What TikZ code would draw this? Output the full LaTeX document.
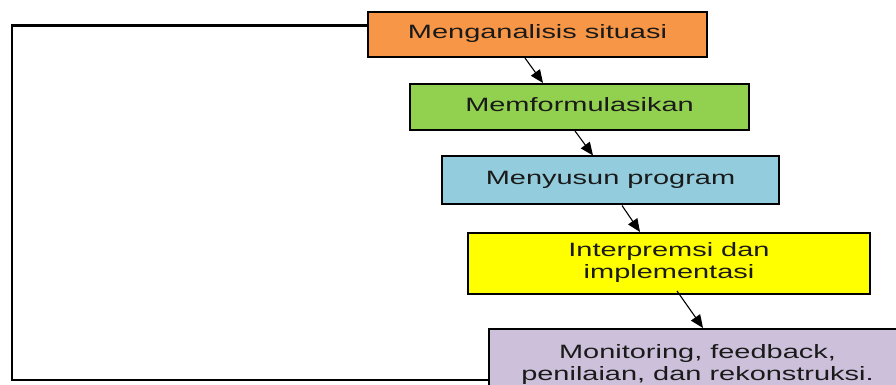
\documentclass[tikz,border=0pt]{standalone}
\usepackage{graphicx}
\usepackage{fontspec}
\setmainfont{Liberation Sans}
\usepackage{tikz}
\usetikzlibrary{arrows.meta}

\definecolor{oranye}{HTML}{F79646}
\definecolor{hijau}{HTML}{92D050}
\definecolor{biru}{HTML}{93CDDD}
\definecolor{kuning}{HTML}{FFFF00}
\definecolor{ungu}{HTML}{CCC0DA}

\newcommand{\melebar}[1]{\scalebox{1.5}[1]{\begin{tabular}{@{}c@{}}#1\end{tabular}}}

\begin{document}
\begin{tikzpicture}[x=1pt, y=1pt,
		langkah/.style={draw=black, line width=2pt, inner sep=0pt,
			font=\fontsize{19.3}{22}\selectfont\color[HTML]{1A1A1A}},
		panah/.style={line width=1.1pt, -{Triangle[length=13pt, width=11pt]}},
		balik/.style={line width=2.4pt}]
		\clip (0,0) rectangle (896,385);
		
		% draw boxes
		\node[langkah, fill=oranye, minimum width=339pt, minimum height=45pt] (situasi) at (537.5,350.5) {\melebar{Menganalisis situasi}};
		\node[langkah, fill=hijau, minimum width=339pt, minimum height=46pt] (formulasi) at (579.5,278) {\melebar{Memformulasikan}};
		\node[langkah, fill=biru, minimum width=337pt, minimum height=48pt] (program) at (610.5,204.5) {\melebar{Menyusun program}};
		\node[langkah, fill=kuning, minimum width=402pt, minimum height=61pt] (implementasi) at (669,121.5) {\melebar{Interpremsi dan\\implementasi}};
		\node[langkah, fill=ungu, minimum width=417pt, minimum height=72pt] (monitoring) at (697.5,20) {\melebar{Monitoring, feedback,\\penilaian, dan rekonstruksi.}};
		
		% draw arrows
		\draw[panah] ([xshift=-12.5pt]situasi.south) -- ([xshift=-36.5pt]formulasi.north);
		\draw[panah] ([xshift=-4.5pt]formulasi.south) -- ([xshift=-17.5pt]program.north);
		\draw[panah] ([xshift=11.5pt]program.south) -- ([xshift=-29pt]implementasi.north);
		\draw[panah] ([xshift=8pt, yshift=4pt]implementasi.south) -- ([xshift=5.5pt]monitoring.north);
		
		% draw loop back
		\coordinate (sudut) at (12,5);
		\draw[balik] ([yshift=9pt]situasi.west) -| (sudut) -- ([yshift=-15pt]monitoring.west);
		
\end{tikzpicture}
\end{document}
